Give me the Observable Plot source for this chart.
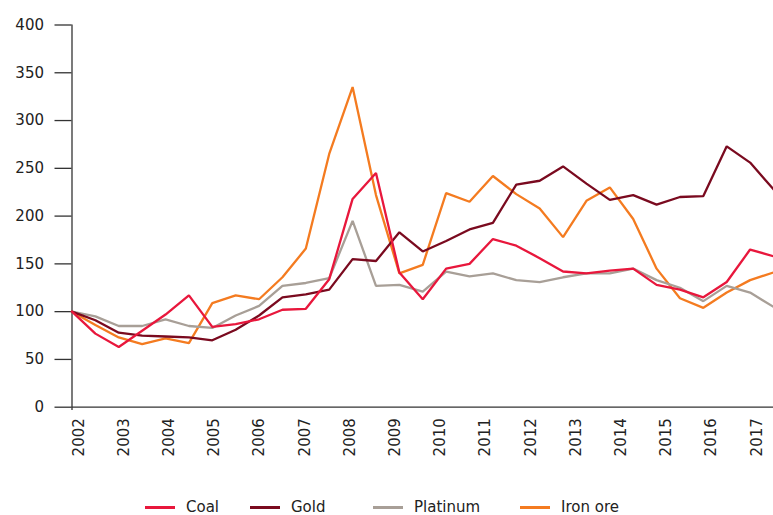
<!DOCTYPE html>
<html>
<head>
<meta charset="utf-8">
<script src="https://cdn.jsdelivr.net/npm/d3@7"></script>
<script src="https://cdn.jsdelivr.net/npm/@observablehq/plot@0.6"></script>
<style>
  html, body { margin: 0; padding: 0; background: #fff; }
  #wrap { position: relative; width: 773px; height: 470px; }
  #wrap svg { position: absolute; left: 0; top: 0; }
  #legend { position: relative; width: 773px; height: 45px; font-family: "DejaVu Sans", sans-serif; font-size: 15px; color: #222; }
  #legend .item { position: absolute; top: 26px; display: flex; align-items: center; height: 22px; white-space: nowrap; }
  #legend .sw { width: 30px; height: 3px; margin-right: 11px; }
</style>
</head>
<body>
<div id="wrap"></div>
<div id="legend"></div>
<script>
// Half-yearly observations (index, 2002 = 100)
const periods = [2002, 2002.5, 2003, 2003.5, 2004, 2004.5, 2005, 2005.5, 2006, 2006.5,
  2007, 2007.5, 2008, 2008.5, 2009, 2009.5, 2010, 2010.5, 2011, 2011.5,
  2012, 2012.5, 2013, 2013.5, 2014, 2014.5, 2015, 2015.5, 2016, 2016.5, 2017];

const coal = [100, 77, 63, 80, 97, 117, 84, 87, 92, 102, 103, 134, 218, 245, 141, 113,
  145, 150, 176, 169, 156, 142, 140, 143, 145, 128, 123, 115, 131, 165, 158];
const gold = [100, 91, 78, 75, 74, 73, 70, 81, 96, 115, 118, 123, 155, 153, 183, 163,
  174, 186, 193, 233, 237, 252, 234, 217, 222, 212, 220, 221, 273, 256, 228];
const platinum = [100, 95, 85, 85, 92, 85, 83, 96, 106, 127, 130, 135, 195, 127, 128, 121,
  142, 137, 140, 133, 131, 136, 140, 140, 145, 133, 125, 111, 127, 120, 105];
const ironOre = [100, 86, 73, 66, 72, 67, 109, 117, 113, 136, 166, 265, 335, 222, 140, 149,
  224, 215, 242, 223, 208, 178, 216, 230, 197, 145, 114, 104, 120, 133, 141];

const seriesNames = ["Coal", "Gold", "Platinum", "Iron ore"];
const seriesColors = ["#e8173c", "#7a0a1f", "#a89f97", "#f47b20"];
const yTicks = [0, 50, 100, 150, 200, 250, 300, 350, 400];
const yearLabels = [2002, 2003, 2004, 2005, 2006, 2007, 2008, 2009, 2010, 2011, 2012, 2013, 2014, 2015, 2016, 2017];

const seriesValues = {"Coal": coal, "Gold": gold, "Platinum": platinum, "Iron ore": ironOre};
const rows = seriesNames.flatMap(name =>
  seriesValues[name].map((v, i) => ({period: periods[i], value: v, series: name})));

// draw order: Iron ore at bottom, Coal on top
const drawOrder = ["Iron ore", "Platinum", "Gold", "Coal"];

const axisColor = "#333";
const W = 773, H = 470;

const main = Plot.plot({
  width: W, height: H,
  marginLeft: 71.5, marginRight: 0, marginTop: 24.5, marginBottom: 63.3,
  x: {domain: [2002, 2017], axis: null},
  y: {domain: [0, 400], label: null},
  color: {domain: seriesNames, range: seriesColors},
  style: {fontFamily: "DejaVu Sans, sans-serif", fontSize: "15px", color: "#222", background: "transparent", overflow: "visible"},
  marks: [
    Plot.axisY(yTicks, {tickSize: 17, tickPadding: 11, stroke: axisColor, strokeWidth: 1.3, fontSize: 15, label: null}),
    Plot.ruleX([2002], {y1: -3.5, y2: 400, stroke: axisColor, strokeWidth: 1.3}),
    Plot.ruleY([0], {stroke: axisColor, strokeWidth: 1.3}),
    ...drawOrder.map(name => Plot.line(rows.filter(d => d.series === name), {
      x: "period", y: "value", stroke: {value: "series", scale: "color"}, strokeWidth: 2.3, strokeLinejoin: "miter"
    }))
  ]
});

const axisOverlay = Plot.plot({
  width: W, height: H,
  marginLeft: 78.3, marginRight: 16.7, marginTop: 24.5, marginBottom: 63.3,
  x: {domain: [2002, 2017]},
  style: {fontFamily: "DejaVu Sans, sans-serif", fontSize: "15px", color: "#222", background: "transparent", overflow: "visible"},
  marks: [
    Plot.axisX(yearLabels, {tickSize: 0, tickPadding: 11, tickRotate: -90, textAnchor: "end", lineAnchor: "middle",
      tickFormat: d => String(d), fontSize: 15, label: null})
  ]
});

const wrap = document.getElementById("wrap");
wrap.appendChild(main);
wrap.appendChild(axisOverlay);
axisOverlay.style.pointerEvents = "none";

// Legend
const legendLeft = {"Coal": 145, "Gold": 250, "Platinum": 373, "Iron ore": 520};
const legend = document.getElementById("legend");
seriesNames.forEach((name, i) => {
  const item = document.createElement("div");
  item.className = "item";
  item.style.left = legendLeft[name] + "px";
  const sw = document.createElement("span");
  sw.className = "sw";
  sw.style.background = seriesColors[i];
  const label = document.createElement("span");
  label.textContent = name;
  item.appendChild(sw);
  item.appendChild(label);
  legend.appendChild(item);
});
</script>
</body>
</html>
